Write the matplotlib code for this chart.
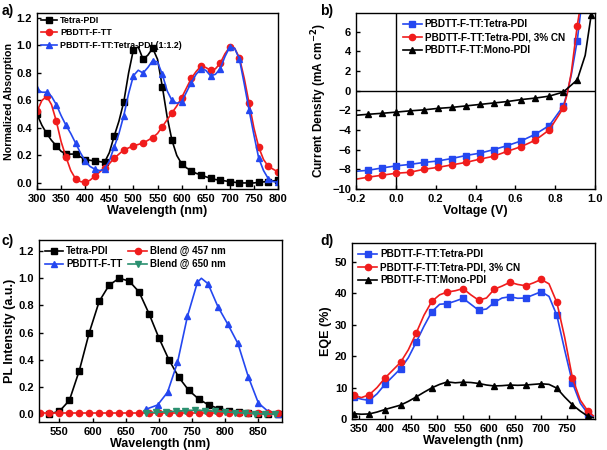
import numpy as np
import matplotlib.pyplot as plt

plt.rcParams['font.family'] = ['Liberation Sans', 'DejaVu Sans']
plt.rcParams['font.weight'] = 'bold'
plt.rcParams['axes.labelweight'] = 'bold'

BLK = 'black'
RED = '#f01c1c'
BLU = '#2447f0'
GRN = '#2a9070'

# ---- a) absorption, 10 nm steps, markers every 20 nm
wl_a = np.arange(300, 801, 10)
abs_tetra = [0.50, 0.42, 0.36, 0.31, 0.27, 0.23, 0.21, 0.21, 0.21, 0.19, 0.17, 0.165, 0.16, 0.155, 0.15,
             0.22, 0.34, 0.45, 0.59, 0.80, 0.97, 0.99, 0.90, 0.93, 0.98, 0.90, 0.70, 0.48, 0.31, 0.20,
             0.14, 0.11, 0.09, 0.07, 0.06, 0.045, 0.035, 0.025, 0.02, 0.015, 0.01, 0.005, 0.0, 0.0, 0.0,
             0.0, 0.005, 0.008, 0.01, 0.015, 0.02]
abs_poly = [0.52, 0.60, 0.63, 0.57, 0.45, 0.30, 0.19, 0.09, 0.03, 0.01, 0.005, 0.02, 0.05, 0.08, 0.11,
            0.14, 0.18, 0.21, 0.24, 0.255, 0.27, 0.28, 0.29, 0.31, 0.33, 0.36, 0.41, 0.46, 0.51, 0.56,
            0.62, 0.69, 0.76, 0.81, 0.85, 0.84, 0.82, 0.83, 0.87, 0.94, 0.99, 0.98, 0.91, 0.76, 0.58,
            0.40, 0.26, 0.17, 0.12, 0.10, 0.08]
abs_blend = [0.68, 0.66, 0.66, 0.63, 0.57, 0.49, 0.42, 0.36, 0.29, 0.22, 0.16, 0.12, 0.10, 0.09, 0.10,
             0.16, 0.26, 0.36, 0.49, 0.65, 0.78, 0.82, 0.80, 0.84, 0.89, 0.88, 0.79, 0.67, 0.60, 0.58,
             0.59, 0.66, 0.73, 0.79, 0.83, 0.82, 0.78, 0.79, 0.83, 0.92, 0.99, 0.98, 0.90, 0.72, 0.53,
             0.35, 0.18, 0.09, 0.03, 0.01, 0.005]

# ---- b) J-V curves
v_b = [-0.2, -0.14, -0.07, 0.0, 0.07, 0.14, 0.21, 0.28, 0.35, 0.42, 0.49, 0.56, 0.63, 0.70, 0.77, 0.84]
j_tetra = [-8.2, -8.1, -7.86, -7.65, -7.5, -7.3, -7.15, -6.9, -6.6, -6.36, -6.0, -5.58, -5.1, -4.42, -3.54, -1.56]
j_cn = [-9.0, -8.8, -8.6, -8.4, -8.3, -8.0, -7.8, -7.55, -7.3, -6.97, -6.67, -6.16, -5.68, -5.03, -3.98, -1.77]
j_mono = [-2.5, -2.4, -2.3, -2.18, -2.05, -1.95, -1.8, -1.7, -1.55, -1.4, -1.25, -1.1, -0.9, -0.75, -0.55, -0.14]
v_tail_tetra = [0.86, 0.88, 0.91, 0.93]
j_tail_tetra = [-0.2, 1.6, 5.1, 8.5]
v_tail_cn = [0.86, 0.88, 0.91, 0.925]
j_tail_cn = [-0.3, 1.8, 6.6, 8.5]
v_tail_mono = [0.91, 0.95, 0.98]
j_tail_mono = [1.1, 3.6, 7.7]

# ---- c) PL spectra
wl_c_tetra = [535, 550, 565, 580, 595, 610, 625, 640, 655, 670, 685, 700, 715, 730, 745, 760, 775, 790,
              805, 820, 835, 850, 865, 880]
pl_tetra = [0.0, 0.02, 0.10, 0.32, 0.60, 0.83, 0.95, 1.0, 0.98, 0.90, 0.74, 0.56, 0.40, 0.27, 0.174,
            0.11, 0.066, 0.04, 0.024, 0.012, 0.006, 0.003, 0.001, 0.0]
wl_c_457 = [520, 535, 550, 565, 580, 595, 610, 625, 640, 655, 670, 685, 700, 715, 730, 745, 760, 775,
            790, 805, 820, 835, 850, 865, 880]
pl_457 = [0.004] * 25
wl_c_poly = [680, 698, 713, 728, 743, 758, 764, 774, 789, 804, 819, 835, 850, 865, 880]
pl_poly = [0.034, 0.066, 0.16, 0.38, 0.72, 0.97, 1.0, 0.96, 0.79, 0.66, 0.52, 0.27, 0.08, 0.017, 0.0]
wl_c_650 = [680, 695, 710, 725, 740, 755, 770, 785, 800, 815, 830, 845, 860, 875]
pl_650 = [0.01, 0.012, 0.016, 0.02, 0.025, 0.028, 0.025, 0.02, 0.015, 0.01, 0.006, 0.003, 0.0, 0.0]

# ---- d) EQE, 15 nm steps, markers every 30 nm
wl_d = [340, 355, 370, 385, 400, 415, 430, 445, 460, 475, 490, 505, 520, 535, 550, 565, 580, 595, 610,
        625, 640, 655, 670, 685, 700, 715, 730, 745, 760, 775, 790, 800]
eqe_tetra = [7.0, 6.3, 5.9, 8.0, 11.0, 13.5, 16.0, 19.5, 24.4, 29.5, 34.1, 36.5, 36.7, 37.5, 38.4, 36.5,
             34.6, 35.0, 37.1, 38.5, 38.9, 38.4, 38.5, 39.5, 40.5, 39.0, 33.0, 22.0, 11.5, 5.0, 1.6, 0.8]
eqe_cn = [7.5, 6.8, 7.7, 10.0, 13.0, 15.5, 18.0, 22.0, 27.3, 33.0, 37.4, 39.5, 40.4, 40.8, 41.5, 39.5,
          37.8, 38.5, 41.3, 42.3, 43.5, 42.8, 42.4, 43.3, 44.4, 43.0, 37.1, 26.0, 13.0, 6.0, 2.4, 1.0]
eqe_mono = [1.7, 1.5, 1.6, 2.2, 3.0, 3.7, 4.4, 5.6, 7.0, 8.5, 9.9, 11.0, 11.8, 11.5, 11.7, 11.6, 11.3,
            10.8, 10.5, 10.6, 10.8, 10.7, 10.8, 11.0, 11.2, 11.0, 9.8, 7.0, 4.5, 2.5, 0.8, 0.4]

fig = plt.figure(figsize=(6.07, 4.5), dpi=100)
ax_a = fig.add_axes([0.061, 0.580, 0.397, 0.391])
ax_b = fig.add_axes([0.5865, 0.580, 0.394, 0.391])
ax_c = fig.add_axes([0.064, 0.062, 0.400, 0.404])
ax_d = fig.add_axes([0.580, 0.069, 0.400, 0.391])

for ax in (ax_a, ax_b, ax_c, ax_d):
    ax.tick_params(direction='in', labelsize=8, length=3, width=1)
    for s in ax.spines.values():
        s.set_linewidth(1.0)

kw = dict(lw=1.2, ms=4.5)


def leg(ax, size, **extra):
    opts = dict(frameon=False, handlelength=1.9, handletextpad=0.3, labelspacing=0.3,
                borderaxespad=0.2, prop={'weight': 'bold', 'size': size})
    opts.update(extra)
    return ax.legend(**opts)


# a)
ax_a.plot(wl_a, abs_tetra, '-s', color=BLK, markevery=2, label='Tetra-PDI', **kw)
ax_a.plot(wl_a, abs_poly, '-o', color=RED, markevery=2, label='PBDTT-F-TT', **kw)
ax_a.plot(wl_a, abs_blend, '-^', color=BLU, markevery=2, label='PBDTT-F-TT:Tetra-PDI (1:1.2)', **kw)
ax_a.set_xlim(300, 800)
ax_a.set_ylim(-0.044, 1.236)
ax_a.set_xticks(range(300, 801, 50))
ax_a.set_yticks(np.arange(0, 1.21, 0.2))
ax_a.yaxis.set_major_formatter(plt.FormatStrFormatter('%.1f'))
ax_a.set_xlabel('Wavelength (nm)', fontsize=9, labelpad=1)
ax_a.set_ylabel('Normalized Absorption', fontsize=7.7, labelpad=2)
leg(ax_a, 6.4, loc='upper left', bbox_to_anchor=(0.0, 1.005), labelspacing=0.4, borderaxespad=0.0)

# b)
ax_b.axhline(0, color='black', lw=1.0)
ax_b.axvline(0, color='black', lw=1.0)
ax_b.plot(v_b + v_tail_tetra, j_tetra + j_tail_tetra, '-s', color=BLU,
          markevery=list(range(1, 16)) + [18], label='PBDTT-F-TT:Tetra-PDI', **kw)
ax_b.plot(v_b + v_tail_cn, j_cn + j_tail_cn, '-o', color=RED,
          markevery=list(range(1, 16)) + [18], label='PBDTT-F-TT:Tetra-PDI, 3% CN', **kw)
ax_b.plot(v_b + v_tail_mono, j_mono + j_tail_mono, '-^', color=BLK,
          markevery=list(range(1, 17)) + [18], label='PBDTT-F-TT:Mono-PDI', **kw)
ax_b.set_xlim(-0.2, 1.0)
ax_b.set_ylim(-10, 7.9)
ax_b.set_xticks(np.arange(-0.2, 1.01, 0.2))
ax_b.set_yticks(range(-10, 7, 2))
ax_b.xaxis.set_major_formatter(plt.FormatStrFormatter('%.1f'))
ax_b.set_xlabel('Voltage (V)', fontsize=9, labelpad=1)
ax_b.set_ylabel('Current Density (mA cm$^{\\mathbf{-2}}$)', fontsize=8.6, labelpad=2)
leg(ax_b, 7.2, loc='upper left', bbox_to_anchor=(0.17, 1.0))

# c)
ax_c.plot(wl_c_tetra, pl_tetra, '-s', color=BLK, label='Tetra-PDI', **kw)
ax_c.plot(wl_c_poly, pl_poly, '-^', color=BLU, markevery=[0, 1, 2, 3, 4, 5, 7, 8, 9, 10, 11, 12, 13, 14],
          label='PBDTT-F-TT', **kw)
ax_c.plot(wl_c_457, pl_457, '-o', color=RED, label='Blend @ 457 nm', **kw)
ax_c.plot(wl_c_650, pl_650, '-v', color=GRN, label='Blend @ 650 nm', **kw)
ax_c.set_xlim(519, 885)
ax_c.set_ylim(-0.06, 1.28)
ax_c.set_xticks(range(550, 851, 50))
ax_c.set_yticks(np.arange(0, 1.21, 0.2))
ax_c.yaxis.set_major_formatter(plt.FormatStrFormatter('%.1f'))
ax_c.set_xlabel('Wavelength (nm)', fontsize=9, labelpad=1)
ax_c.set_ylabel('PL Intensity (a.u.)', fontsize=9, labelpad=2)
leg(ax_c, 7, ncol=2, loc='upper left', columnspacing=0.6)

# d)
mk = slice(0, 31, 2)
ax_d.plot(wl_d, eqe_tetra, '-s', color=BLU, markevery=mk, label='PBDTT-F-TT:Tetra-PDI', **kw)
ax_d.plot(wl_d, eqe_cn, '-o', color=RED, markevery=mk, label='PBDTT-F-TT:Tetra-PDI, 3% CN', **kw)
ax_d.plot(wl_d, eqe_mono, '-^', color=BLK, markevery=mk, label='PBDTT-F-TT:Mono-PDI', **kw)
ax_d.set_xlim(337, 803)
ax_d.set_ylim(0, 56)
ax_d.set_xticks(range(350, 751, 50))
ax_d.set_yticks(range(0, 51, 10))
ax_d.set_xlabel('Wavelength (nm)', fontsize=9, labelpad=1)
ax_d.set_ylabel('EQE (%)', fontsize=9, labelpad=2)
leg(ax_d, 7.2, loc='upper left', bbox_to_anchor=(0.0, 1.0))

for ax in (ax_a, ax_b, ax_c, ax_d):
    for lab in ax.get_xticklabels() + ax.get_yticklabels():
        lab.set_fontweight('bold')

fig.text(0.002, 0.975, 'a)', fontsize=10, fontweight='bold', va='center')
fig.text(0.527, 0.975, 'b)', fontsize=10, fontweight='bold', va='center')
fig.text(0.002, 0.465, 'c)', fontsize=10, fontweight='bold', va='center')
fig.text(0.527, 0.465, 'd)', fontsize=10, fontweight='bold', va='center')

fig.savefig('out.png', dpi=100)
